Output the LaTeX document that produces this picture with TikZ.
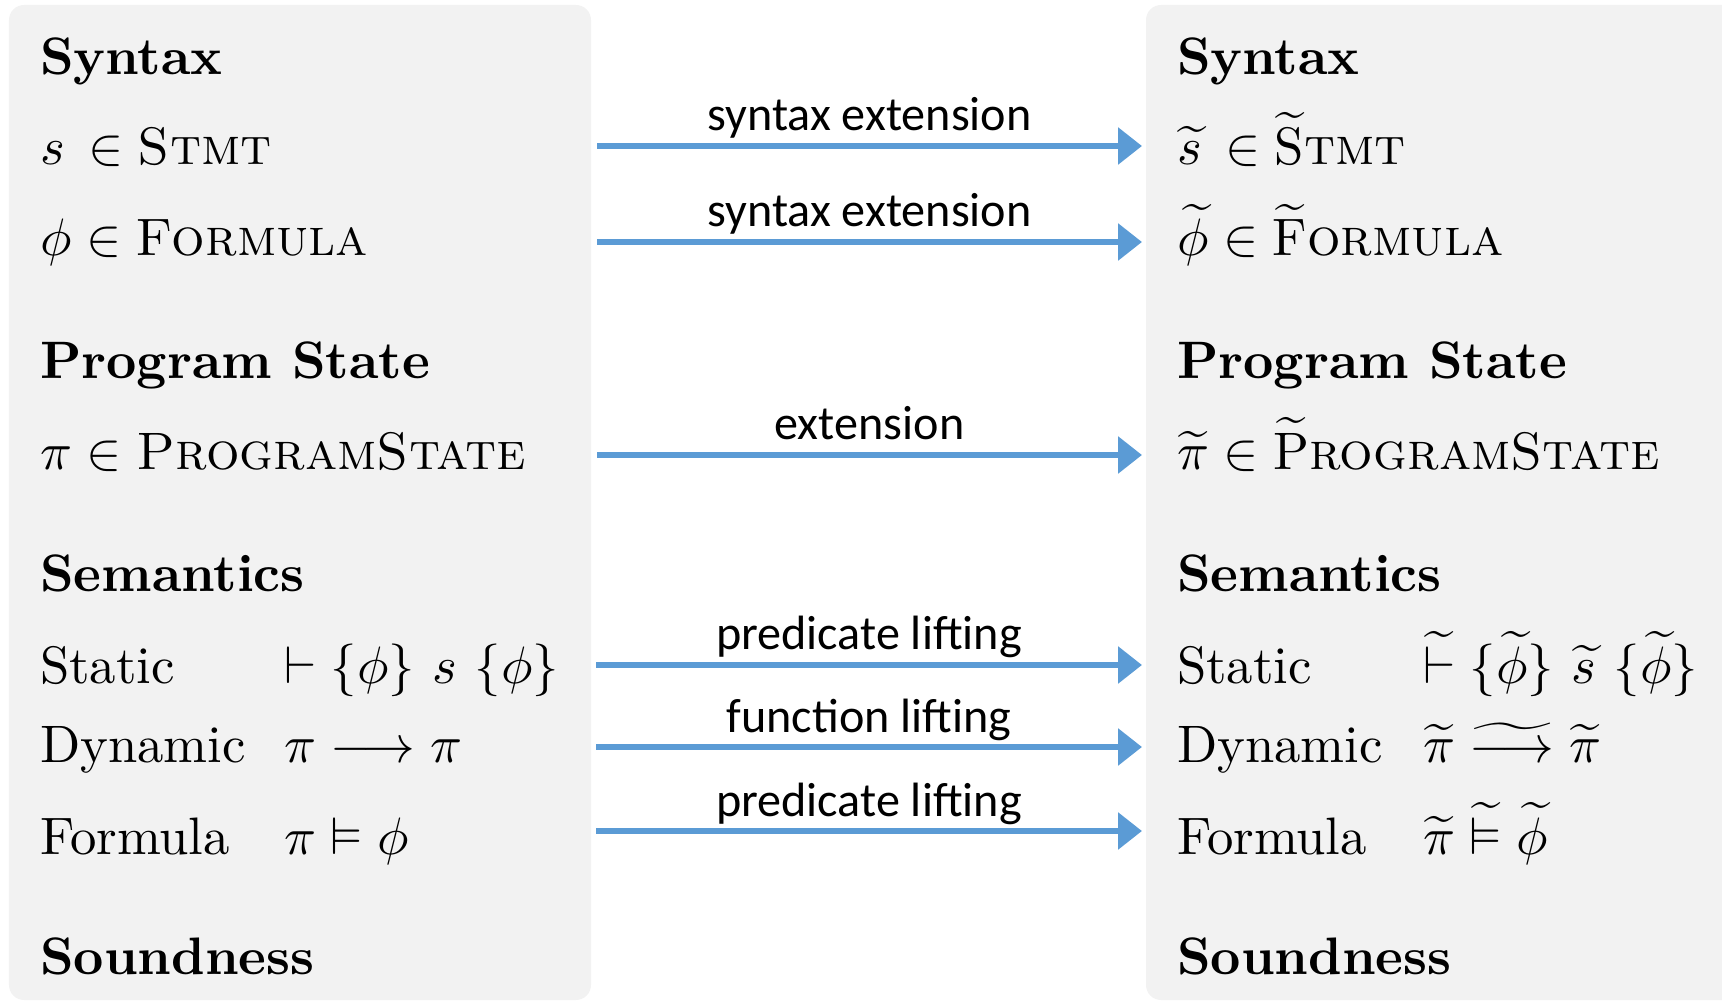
\documentclass[tikz,border=0pt]{standalone}
\usepackage{amsmath,amssymb}
\usepackage{fontspec}
\newfontfamily\labelfont{Carlito}
\usetikzlibrary{arrows.meta}
\definecolor{liftblue}{HTML}{5B9BD5}
\definecolor{panelgray}{HTML}{F2F2F2}

\begin{document}
\begin{tikzpicture}[
    panel/.style={fill=panelgray, draw=none, rounded corners=1.5mm},
    head/.style={anchor=base west, inner sep=0pt, scale=1.5, font=\fontsize{10}{12}\selectfont\bfseries},
    row/.style={anchor=base west, inner sep=0pt, scale=1.5, font=\fontsize{10}{12}\selectfont},
    lift/.style={draw=liftblue, line width=1.7pt, -{Triangle[length=2.4mm,width=3.6mm]}},
    liftlabel/.style={anchor=base, yshift=1.5mm, inner sep=0pt, font=\fontsize{13.7}{16}\selectfont\labelfont}
]
    \useasboundingbox (0, 0) rectangle (17.22, -10.02);

    \draw[panel] (0.09, -0.05) rectangle (5.91, -10.0);
    \draw[panel] (11.46, -0.05) rectangle (17.5, -10.0);

    % original side
    \node[head] (synL) at (0.39, -0.75) {Syntax};
    \node[row] (stmtL) at (0.39, -1.65) {$s\,\in \textsc{Stmt}$};
    \node[row] (formL) at (0.39, -2.56) {$\phi \in \textsc{Formula}$};
    \node[head] (stateL) at (0.39, -3.79) {Program State};
    \node[row] (piL) at (0.39, -4.69) {$\pi \in \textsc{ProgramState}$};
    \node[head] (semL) at (0.39, -5.91) {Semantics};
    \node[row] (statL) at (0.39, -6.83) {Static};
    \node[row] (statLx) at (2.83, -6.83) {$\vdash \{\phi\}\ s\ \{\phi\}$};
    \node[row] (dynL) at (0.39, -7.63) {Dynamic};
    \node[row] (dynLx) at (2.83, -7.63) {$\pi \longrightarrow \pi$};
    \node[row] (fmlL) at (0.39, -8.54) {Formula};
    \node[row] (fmlLx) at (2.83, -8.54) {$\pi \vDash \phi$};
    \node[head] (sndL) at (0.39, -9.75) {Soundness};

    % extended side
    \node[head] (synR) at (11.76, -0.75) {Syntax};
    \node[row] (stmtR) at (11.76, -1.65) {$\widetilde{s}\,\in \widetilde{\mathrm{S}}\textsc{tmt}$};
    \node[row] (formR) at (11.76, -2.56) {$\widetilde{\phi} \in \widetilde{\mathrm{F}}\textsc{ormula}$};
    \node[head] (stateR) at (11.76, -3.79) {Program State};
    \node[row] (piR) at (11.76, -4.69) {$\widetilde{\pi} \in \widetilde{\mathrm{P}}\textsc{rogramState}$};
    \node[head] (semR) at (11.76, -5.91) {Semantics};
    \node[row] (statR) at (11.76, -6.83) {Static};
    \node[row] (statRx) at (14.22, -6.83) {$\mathrel{\widetilde{\vdash}} \{\widetilde{\phi}\}\ \widetilde{s}\ \{\widetilde{\phi}\}$};
    \node[row] (dynR) at (11.76, -7.63) {Dynamic};
    \node[row] (dynRx) at (14.22, -7.63) {$\widetilde{\pi} \mathrel{\widetilde{\longrightarrow}} \widetilde{\pi}$};
    \node[row] (fmlR) at (11.76, -8.54) {Formula};
    \node[row] (fmlRx) at (14.22, -8.54) {$\widetilde{\pi} \mathrel{\widetilde{\vDash}} \widetilde{\phi}$};
    \node[head] (sndR) at (11.76, -9.75) {Soundness};

    % arrows
    \coordinate (stmtA) at (5.97, -1.46);
    \coordinate (stmtB) at (11.42, -1.46);
    \coordinate (formA) at (5.97, -2.42);
    \coordinate (formB) at (11.42, -2.42);
    \coordinate (piA) at (5.97, -4.55);
    \coordinate (piB) at (11.42, -4.55);
    \coordinate (statA) at (5.96, -6.65);
    \coordinate (statB) at (11.42, -6.65);
    \coordinate (dynA) at (5.96, -7.47);
    \coordinate (dynB) at (11.42, -7.47);
    \coordinate (fmlA) at (5.96, -8.31);
    \coordinate (fmlB) at (11.42, -8.31);

    \draw[lift] (stmtA) -- node[liftlabel] (stmtT) {syntax extension} (stmtB);
    \draw[lift] (formA) -- node[liftlabel] (formT) {syntax extension} (formB);
    \draw[lift] (piA) -- node[liftlabel] (piT) {extension} (piB);
    \draw[lift] (statA) -- node[liftlabel] (statT) {predicate lifting} (statB);
    \draw[lift] (dynA) -- node[liftlabel] (dynT) {function lifting} (dynB);
    \draw[lift] (fmlA) -- node[liftlabel] (fmlT) {predicate lifting} (fmlB);
\end{tikzpicture}
\end{document}
